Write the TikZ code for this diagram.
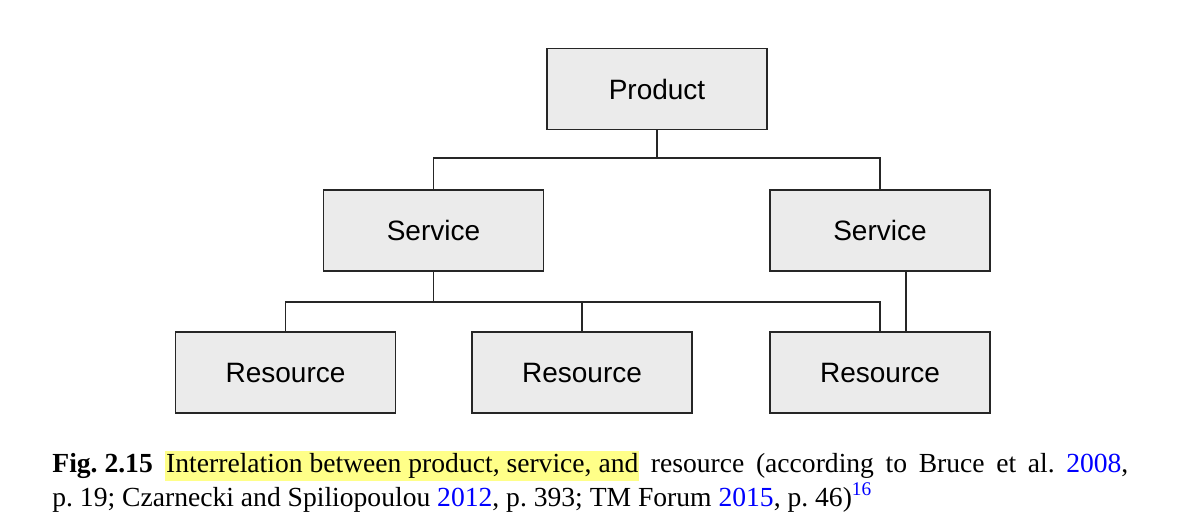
\documentclass[tikz,border=0pt]{standalone}
\usepackage{fontspec}
\setmainfont{Liberation Serif}
\newfontfamily\boxfont{Liberation Sans}
\definecolor{boxgray}{HTML}{EBEBEB}
\definecolor{hlyellow}{HTML}{FFFF88}
\definecolor{linkblue}{HTML}{0000FF}
\frenchspacing
\begin{document}
\begin{tikzpicture}[x=0.5pt,y=-0.5pt,
  entity/.style={draw=black!85, line width=0.75pt, fill=boxgray, minimum width=110pt, minimum height=40.5pt, inner sep=0pt, font=\boxfont\fontsize{14}{16}\selectfont},
  conn/.style={draw=black!85, line width=0.75pt},
  caption/.style={anchor=base west, inner sep=0pt, font=\fontsize{13.8}{14}\selectfont}]
\useasboundingbox (0,0) rectangle (1180,527);
\node[entity] (P) at (657,89) {Product};
\node[entity] (S1) at (433.5,230.5) {Service};
\node[entity] (S2) at (880,230.5) {Service};
\node[entity] (R1) at (285.5,372.5) {Resource};
\node[entity] (R2) at (582,372.5) {Resource};
\node[entity] (R3) at (880,372.5) {Resource};
\coordinate (j1) at (657,158);
\coordinate (j2) at (433.5,302);
\draw[conn] (P.south) -- (j1);
\draw[conn] (S1.north) |- (j1);
\draw[conn] (S2.north) |- (j1);
\draw[conn] (S1.south) -- (j2);
\draw[conn] (R1.north) |- (j2);
\draw[conn] (R2.north) |- (j2);
\draw[conn] (R3.north) |- (j2);
\draw[conn] ([xshift=13pt]S2.south) -- ([xshift=13pt]R3.north);
\node[caption] (c1) at (52,472) {\makebox[538pt][s]{\mbox{\textbf{Fig. 2.15}}\hspace{0.45em}{\setlength{\fboxsep}{0.5pt}\colorbox{hlyellow}{\strut Interrelation between product, service, and}} resource (according to Bruce et al. \textcolor{linkblue}{2008},}};
\node[caption] (c2) at (52,506) {p. 19; Czarnecki and Spiliopoulou \textcolor{linkblue}{2012}, p. 393; TM Forum \textcolor{linkblue}{2015}, p. 46)\textsuperscript{\textcolor{linkblue}{16}}};
\end{tikzpicture}
\end{document}
